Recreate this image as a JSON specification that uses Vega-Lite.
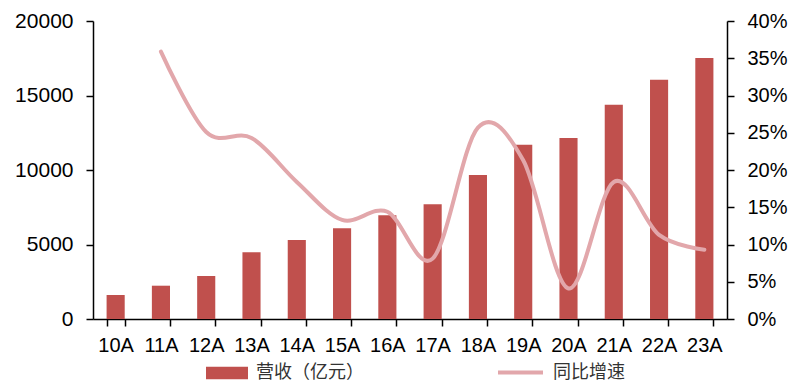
{
  "$schema": "https://vega.github.io/schema/vega-lite/v6.json",
  "width": 634,
  "height": 298,
  "autosize": {"type": "none"},
  "padding": {"left": 93, "top": 21, "right": 65, "bottom": 63},
  "background": "white",
  "config": {
    "view": {"stroke": null},
    "font": "Liberation Sans",
    "axis": {
      "labelFont": "Liberation Sans",
      "labelFontSize": 20,
      "labelColor": "#000000",
      "domainColor": "#000000",
      "domainWidth": 1.5,
      "tickColor": "#000000",
      "tickWidth": 1.5,
      "tickSize": 7,
      "grid": false,
      "title": null
    },
    "legend": {
      "labelFont": "Noto Sans CJK SC",
      "labelFontSize": 18,
      "labelColor": "#333333",
      "title": null
    }
  },
  "data": {
    "values": [
      {"year": "10A", "revenue": 1610, "growth": null},
      {"year": "11A", "revenue": 2235, "growth": 0.359},
      {"year": "12A", "revenue": 2886, "growth": 0.251},
      {"year": "13A", "revenue": 4477, "growth": 0.243},
      {"year": "14A", "revenue": 5302, "growth": 0.184},
      {"year": "15A", "revenue": 6087, "growth": 0.133},
      {"year": "16A", "revenue": 6960, "growth": 0.144},
      {"year": "17A", "revenue": 7698, "growth": 0.081},
      {"year": "18A", "revenue": 9664, "growth": 0.257},
      {"year": "19A", "revenue": 11698, "growth": 0.213},
      {"year": "20A", "revenue": 12148, "growth": 0.041},
      {"year": "21A", "revenue": 14383, "growth": 0.184},
      {"year": "22A", "revenue": 16060, "growth": 0.113},
      {"year": "23A", "revenue": 17517, "growth": 0.093}
    ]
  },
  "encoding": {
    "x": {
      "field": "year",
      "type": "ordinal",
      "sort": null,
      "scale": {"paddingInner": 0.6, "paddingOuter": 0.3},
      "axis": {
        "labelAngle": 0,
        "tickBand": "extent",
        "labelPadding": 9
      }
    }
  },
  "layer": [
    {
      "mark": {"type": "bar"},
      "encoding": {
        "y": {
          "field": "revenue",
          "type": "quantitative",
          "scale": {"domain": [0, 20000]},
          "axis": {"values": [0, 5000, 10000, 15000, 20000], "format": "d", "labelPadding": 13, "labelFontSize": 21}
        },
        "fill": {
          "datum": "营收（亿元）",
          "scale": {"range": ["#C0504D"]},
          "legend": {
            "orient": "none",
            "legendX": 113,
            "legendY": 331,
            "symbolType": "M-1,-0.3H1V0.3H-1Z",
            "symbolSize": 1764,
            "symbolStrokeWidth": 0,
            "labelOffset": 8
          }
        }
      }
    },
    {
      "transform": [{"filter": "datum.growth != null"}],
      "mark": {
        "type": "line",
        "interpolate": "cardinal",
        "strokeWidth": 4,
        "strokeCap": "round"
      },
      "encoding": {
        "y": {
          "field": "growth",
          "type": "quantitative",
          "scale": {"domain": [0, 0.4]},
          "axis": {"orient": "right", "values": [0, 0.05, 0.1, 0.15, 0.2, 0.25, 0.3, 0.35, 0.4], "format": ".0%", "labelPadding": 13}
        },
        "stroke": {
          "datum": "同比增速",
          "scale": {"range": ["#E2A7AB"]},
          "legend": {
            "orient": "none",
            "legendX": 403,
            "legendY": 327,
            "symbolType": "stroke",
            "symbolSize": 2025,
            "symbolStrokeWidth": 4,
            "labelOffset": 8
          }
        }
      }
    }
  ],
  "resolve": {"scale": {"y": "independent"}}
}
